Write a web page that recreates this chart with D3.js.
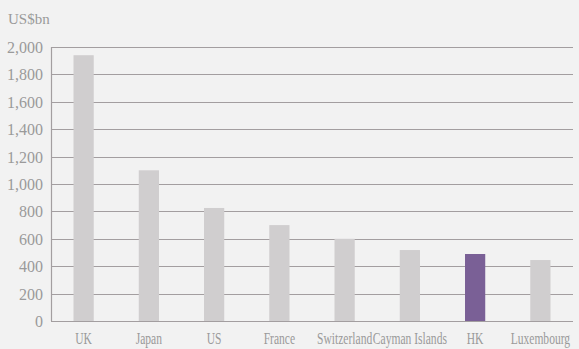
<!DOCTYPE html>
<html><head><meta charset="utf-8">
<script src="https://cdn.jsdelivr.net/npm/d3@7"></script>
<style>
html,body{margin:0;padding:0;background:#f2f2f2;}
</style></head>
<body>
<svg id="chart" width="579" height="349"></svg>
<script>
const categories = ["UK","Japan","US","France","Switzerland","Cayman Islands","HK","Luxembourg"];
const values = [1940, 1100, 825, 700, 600, 518, 489, 445];
const yTicks = [0,200,400,600,800,1000,1200,1400,1600,1800,2000];
const highlight = "HK";

const FONT = '"Liberation Serif", "DejaVu Serif", serif';
const svg = d3.select("#chart");
const m = {left:51, right:6, top:47, bottom:28};
const W = 579, H = 349;
const x = d3.scaleBand().domain(categories).range([m.left, W - m.right]).paddingInner(0.69).paddingOuter(0.345);
const y = d3.scaleLinear().domain([0,2000]).range([H - m.bottom, m.top]);

// gridlines
svg.append("g").selectAll("line").data(yTicks).join("line")
  .attr("x1", m.left).attr("x2", W - m.right)
  .attr("y1", d => Math.round(y(d)) + 0.5).attr("y2", d => Math.round(y(d)) + 0.5)
  .attr("stroke", "#a39ea0").attr("stroke-width", 1.2);

// left axis line
svg.append("line").attr("x1", m.left + 0.5).attr("x2", m.left + 0.5)
  .attr("y1", y(2000)).attr("y2", y(0)).attr("stroke", "#a39ea0").attr("stroke-width", 1.2);

// bars
svg.append("g").selectAll("rect").data(categories).join("rect")
  .attr("x", d => x(d)).attr("width", x.bandwidth())
  .attr("y", (d,i) => y(values[i])).attr("height", (d,i) => y(0) - y(values[i]))
  .attr("fill", d => d === highlight ? "#7a6096" : "#d0cecf");

function styleText(sel, size) {
  return sel.attr("font-family", FONT).attr("font-size", size).attr("fill", "#9a9a9a")
    .style("font-family", FONT).style("font-size", size + "px").style("fill", "#9a9a9a");
}

// y tick labels
styleText(svg.append("g").selectAll("text").data(yTicks).join("text")
  .attr("x", 43).attr("y", d => y(d) + 6)
  .attr("text-anchor", "end")
  .text(d => d3.format(",")(d)), 16);

// x labels
styleText(svg.append("g").selectAll("text").data(categories).join("text")
  .attr("transform", d => `translate(${x(d) + x.bandwidth()/2},344) scale(0.68,1)`)
  .attr("text-anchor", "middle")
  .text(d => d), 17);

// unit label
styleText(svg.append("text").attr("x", 8).attr("y", 24).text("US$bn"), 15);
</script>
</body></html>
